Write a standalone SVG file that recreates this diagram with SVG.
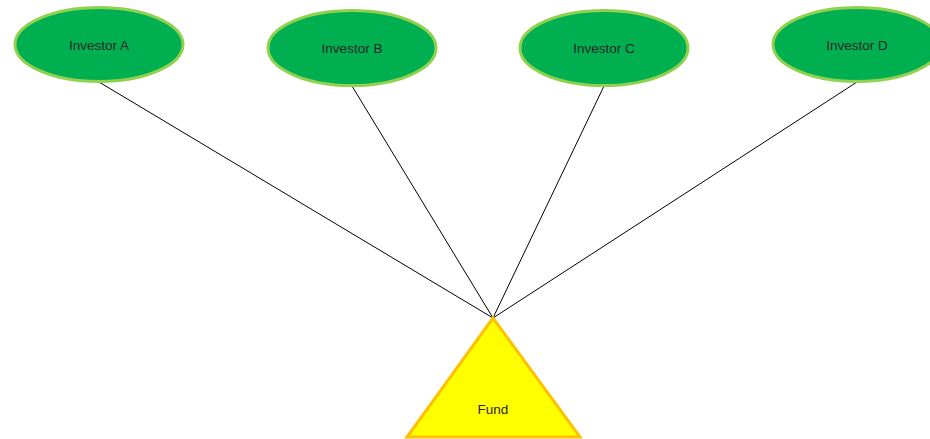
<svg xmlns="http://www.w3.org/2000/svg" width="930" height="439" viewBox="0 0 930 439">
<style>
.inv ellipse{fill:#00B050;stroke:#92D050;stroke-width:3}
.lbl{font-family:"Liberation Sans",Arial,sans-serif;font-size:13.5px;fill:#262626;text-anchor:middle}
.conn line{stroke:#000;stroke-width:1}
</style>
<rect width="930" height="439" fill="#fff"/>
<g id="connectors" class="conn">
<line x1="99" y1="82" x2="493" y2="318"/>
<line x1="352" y1="86" x2="493" y2="318"/>
<line x1="604" y1="86" x2="493" y2="318"/>
<line x1="857" y1="82" x2="493" y2="318"/>
</g>
<g id="investorA" class="inv"><ellipse cx="99" cy="44.5" rx="84" ry="37"/><text class="lbl" x="99" y="50">Investor A</text></g>
<g id="investorB" class="inv"><ellipse cx="352" cy="48" rx="84" ry="37.5"/><text class="lbl" x="352" y="53">Investor B</text></g>
<g id="investorC" class="inv"><ellipse cx="604" cy="48" rx="84" ry="37.5"/><text class="lbl" x="604" y="53">Investor C</text></g>
<g id="investorD" class="inv"><ellipse cx="857" cy="44.5" rx="84" ry="37"/><text class="lbl" x="857" y="50">Investor D</text></g>
<g id="fund"><polygon points="493,318 407,437 580,437" fill="#FFFF00" stroke="#FFC000" stroke-width="3"/><text class="lbl" x="493" y="414">Fund</text></g>
</svg>
